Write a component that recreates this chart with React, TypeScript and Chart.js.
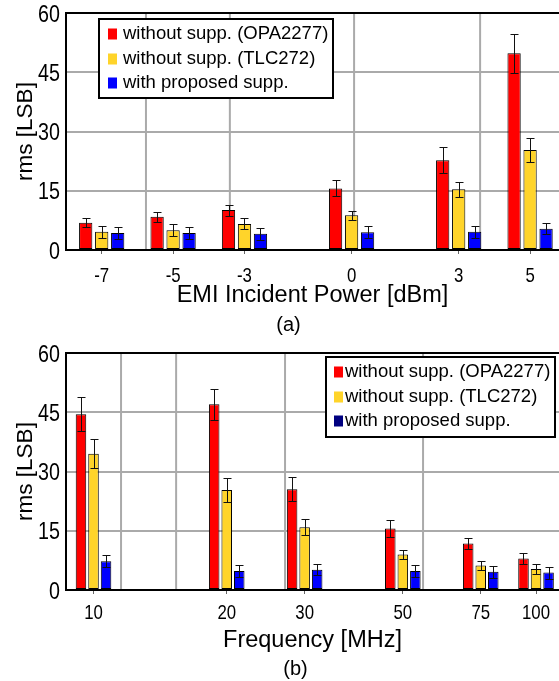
import React, { useEffect, useRef } from 'react';
import { Chart, registerables } from 'chart.js';

Chart.register(...registerables);

// ---------- Panel (a): EMI incident power ----------
const powerLevels = [-7, -5, -3, 0, 3, 5];
const powerTickLabels = ['-7', '-5', '-3', '0', '3', '5'];
const powerOpa = [6.9, 8.4, 10.1, 15.6, 22.7, 49.8];
const powerOpaErr = [1.2, 1.3, 1.4, 2.0, 3.3, 5.0];
const powerTlc = [4.6, 5.0, 6.6, 8.8, 15.4, 25.3];
const powerTlcErr = [1.5, 1.5, 1.4, 1.1, 1.9, 3.0];
const powerProp = [4.3, 4.3, 4.1, 4.5, 4.6, 5.4];
const powerPropErr = [1.5, 1.5, 1.5, 1.5, 1.5, 1.4];
const powerGridLines = [-5.76, -3.41, 0.07, 3.6];

// ---------- Panel (b): frequency ----------
const freqs = [10, 20, 30, 50, 75, 100];
const freqTickLabels = ['10', '20', '30', '50', '75', '100'];
const freqOpa = [44.5, 47.0, 25.5, 15.6, 11.8, 8.0];
const freqOpaErr = [4.3, 4.0, 3.0, 2.1, 1.4, 1.35];
const freqTlc = [34.5, 25.3, 15.9, 9.0, 6.2, 5.3];
const freqTlcErr = [3.7, 3.0, 2.0, 1.1, 1.2, 1.3];
const freqProp = [7.3, 4.8, 5.1, 4.8, 4.6, 4.4];
const freqPropErr = [1.6, 1.5, 1.4, 1.5, 1.6, 1.5];
const freqGridLines = [11.54, 15.37, 27.09, 55.55];

const yTicks = [0, 15, 30, 45, 60];
const yTickLabels = ['0', '15', '30', '45', '60'];
const seriesLabels = ['without supp. (OPA2277)', 'without supp. (TLC272)', 'with proposed supp.'];

const RED = '#ff0000';
const YELLOW = '#ffd42a';
const BLUE = '#0000ff';
const NAVY = '#000080';
const GRID = '#aaaaaa';

const SANS = "'Liberation Sans', Arial, Helvetica, sans-serif";

type PanelSpec = {
  height: number;
  xType: 'linear' | 'logarithmic';
  xMin: number;
  xMax: number;
  xs: number[];
  xLabels: string[];
  series: number[][];
  errors: number[][];
  gridLines: number[];
  xTitle: string;
  xTitleBottom: number;
  xTickBaseline: number;
  caption: string;
  captionX: number;
  captionBaseline: number;
  catPct: number;
  barPct: number;
  legend: { x: number; y: number; w: number; h: number; markerDx: number; textDx: number; rows: number[]; colors: string[] };
};

// draws text horizontally condensed (the source uses a narrow face)
function narrowText(ctx: CanvasRenderingContext2D, text: string, x: number, y: number, size: number, align: CanvasTextAlign, squeeze: number) {
  ctx.save();
  ctx.translate(x, y);
  ctx.scale(squeeze, 1);
  ctx.font = `${size}px ${SANS}`;
  ctx.textAlign = align;
  ctx.textBaseline = 'alphabetic';
  ctx.fillStyle = '#000';
  ctx.fillText(text, 0, 0);
  ctx.restore();
}

function makePlugin(spec: PanelSpec) {
  return {
    id: 'panelExtras',
    beforeDatasetsDraw(chart: any) {
      const { ctx, chartArea } = chart;
      const xs = chart.scales.x;
      ctx.save();
      ctx.strokeStyle = GRID;
      ctx.lineWidth = 2;
      spec.gridLines.forEach((v) => {
        const px = xs.getPixelForValue(v);
        ctx.beginPath();
        ctx.moveTo(px, chartArea.top);
        ctx.lineTo(px, chartArea.bottom - 1);
        ctx.stroke();
      });
      ctx.restore();
    },
    afterDatasetsDraw(chart: any) {
      const { ctx, chartArea } = chart;
      const ys = chart.scales.y;
      ctx.save();
      ctx.strokeStyle = '#111';
      ctx.lineWidth = 1;
      spec.errors.forEach((errs, di) => {
        const meta = chart.getDatasetMeta(di);
        meta.data.forEach((bar: any, i: number) => {
          const v = spec.series[di][i];
          const e = errs[i];
          const x = Math.round(bar.x) + 0.5;
          const yt = Math.round(ys.getPixelForValue(v + e)) + 0.5;
          const yb = Math.round(ys.getPixelForValue(v - e)) + 0.5;
          ctx.beginPath();
          ctx.moveTo(x, yt);
          ctx.lineTo(x, yb);
          ctx.moveTo(x - 4, yt);
          ctx.lineTo(x + 4, yt);
          ctx.moveTo(x - 4, yb);
          ctx.lineTo(x + 4, yb);
          ctx.stroke();
        });
      });
      // top border of the plot
      ctx.strokeStyle = '#000';
      ctx.lineWidth = 2;
      ctx.beginPath();
      ctx.moveTo(chartArea.left - 1, chartArea.top);
      ctx.lineTo(chartArea.right, chartArea.top);
      ctx.stroke();
      ctx.restore();
    },
    afterDraw(chart: any) {
      const { ctx } = chart;
      const xScale = chart.scales.x;
      const yScale = chart.scales.y;
      // tick labels
      xScale.ticks.forEach((t: any) => {
        const i = spec.xs.indexOf(t.value);
        if (i < 0) return;
        narrowText(ctx, spec.xLabels[i], xScale.getPixelForValue(t.value), spec.xTickBaseline, 21, 'center', 0.8);
      });
      yScale.ticks.forEach((t: any) => {
        const i = yTicks.indexOf(t.value);
        if (i < 0) return;
        narrowText(ctx, yTickLabels[i], yScale.left + yScale.width - 6, yScale.getPixelForValue(t.value) + 8.6, 24, 'right', 0.82);
      });
      // legend
      const L = spec.legend;
      ctx.save();
      ctx.fillStyle = '#fff';
      ctx.fillRect(L.x, L.y, L.w, L.h);
      ctx.strokeStyle = '#000';
      ctx.lineWidth = 2;
      ctx.strokeRect(L.x, L.y, L.w, L.h);
      ctx.font = `18.5px ${SANS}`;
      ctx.textBaseline = 'middle';
      ctx.textAlign = 'left';
      seriesLabels.forEach((lab, i) => {
        const cy = L.y + L.rows[i];
        ctx.fillStyle = L.colors[i];
        ctx.fillRect(L.x + L.markerDx, cy - 5.5, 9, 11);
        ctx.fillStyle = '#000';
        ctx.fillText(lab, L.x + L.textDx, cy);
      });
      // caption
      ctx.font = `20px ${SANS}`;
      ctx.textAlign = 'center';
      ctx.textBaseline = 'alphabetic';
      ctx.fillStyle = '#000';
      ctx.fillText(spec.caption, spec.captionX, spec.captionBaseline);
      ctx.restore();
    },
  };
}

function makeConfig(spec: PanelSpec): any {
  const colors = [RED, YELLOW, BLUE];
  return {
    type: 'bar',
    data: {
      datasets: spec.series.map((vals, di) => ({
        label: seriesLabels[di],
        data: spec.xs.map((x, i) => ({ x, y: vals[i] })),
        backgroundColor: colors[di],
        borderColor: '#000',
        borderWidth: 1,
        borderSkipped: false,
        categoryPercentage: spec.catPct,
        barPercentage: spec.barPct,
      })),
    },
    options: {
      responsive: false,
      animation: false,
      devicePixelRatio: 1,
      layout: { padding: { top: 13, left: 0, right: 0, bottom: 0 } },
      plugins: {
        legend: { display: false },
        title: { display: false },
        tooltip: { enabled: false },
      },
      scales: {
        x: {
          type: spec.xType,
          min: spec.xMin,
          max: spec.xMax,
          bounds: 'data',
          offset: false,
          grid: { display: true, drawOnChartArea: false, drawTicks: true, tickLength: 4, color: '#666', offset: false },
          border: { display: true, color: '#000', width: 2 },
          ticks: { display: false, autoSkip: false, maxRotation: 0 },
          afterBuildTicks: (s: any) => {
            s.ticks = spec.xs.map((v) => ({ value: v }));
          },
          title: {
            display: true,
            text: spec.xTitle,
            color: '#000',
            font: { family: SANS, size: 23.5 },
            padding: { top: 0, bottom: spec.xTitleBottom },
          },
          afterFit: (s: any) => {
            s.height = spec.height - 250;
            s.paddingLeft = 0;
            s.paddingRight = 0;
          },
        },
        y: {
          type: 'linear',
          min: 0,
          max: 60,
          bounds: 'data',
          grid: { color: GRID, lineWidth: 2, drawTicks: false },
          border: { display: true, color: '#000', width: 2 },
          ticks: { display: false },
          afterBuildTicks: (s: any) => {
            s.ticks = yTicks.map((v) => ({ value: v }));
          },
          title: {
            display: true,
            text: 'rms [LSB]',
            color: '#000',
            font: { family: SANS, size: 22.5 },
            padding: { top: 12, bottom: 0 },
          },
          afterFit: (s: any) => {
            s.width = 66;
            s.paddingTop = 0;
            s.paddingBottom = 0;
          },
        },
      },
    },
    plugins: [makePlugin(spec)],
  };
}

const panelA: PanelSpec = {
  height: 340,
  xType: 'linear',
  xMin: -8,
  xMax: 5.81,
  xs: powerLevels,
  xLabels: powerTickLabels,
  series: [powerOpa, powerTlc, powerProp],
  errors: [powerOpaErr, powerTlcErr, powerPropErr],
  gridLines: powerGridLines,
  xTitle: 'EMI Incident Power [dBm]',
  xTitleBottom: 30,
  xTickBaseline: 281.5,
  caption: '(a)',
  captionX: 288.5,
  captionBaseline: 331,
  catPct: 0.672,
  barPct: 0.83,
  legend: { x: 99, y: 19, w: 234, h: 79, markerDx: 9, textDx: 24, rows: [15, 40, 64], colors: [RED, YELLOW, BLUE] },
};

const panelB: PanelSpec = {
  height: 341,
  xType: 'logarithmic',
  xMin: 8.666,
  xMax: 112.7,
  xs: freqs,
  xLabels: freqTickLabels,
  series: [freqOpa, freqTlc, freqProp],
  errors: [freqOpaErr, freqTlcErr, freqPropErr],
  gridLines: freqGridLines,
  xTitle: 'Frequency [MHz]',
  xTitleBottom: 26,
  xTickBaseline: 278.5,
  caption: '(b)',
  captionX: 295.5,
  captionBaseline: 335,
  catPct: 0.68,
  barPct: 0.84,
  legend: { x: 326, y: 17, w: 229, h: 80, markerDx: 8, textDx: 19, rows: [15, 40, 64], colors: [RED, YELLOW, NAVY] },
};

function Panel({ spec }: { spec: PanelSpec }) {
  const ref = useRef<HTMLCanvasElement>(null);
  useEffect(() => {
    if (!ref.current) return;
    const chart = new Chart(ref.current, makeConfig(spec));
    return () => chart.destroy();
  }, [spec]);
  return <canvas ref={ref} width={559} height={spec.height} style={{ display: 'block', width: 559, height: spec.height }} />;
}

export default function App() {
  useEffect(() => {
    document.body.style.margin = '0';
  }, []);
  return (
    <div style={{ position: 'absolute', left: 0, top: 0, width: 559, height: 681, background: '#fff' }}>
      <Panel spec={panelA} />
      <Panel spec={panelB} />
    </div>
  );
}
